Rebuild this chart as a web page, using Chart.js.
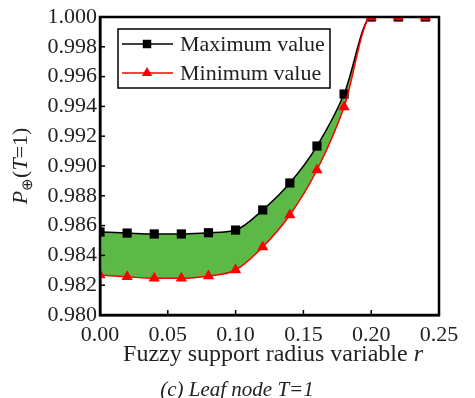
<!DOCTYPE html>
<html>
<head>
<meta charset="utf-8">
<script src="https://cdn.jsdelivr.net/npm/chart.js@4.4.0/dist/chart.umd.min.js"></script>
<style>
  html, body { margin: 0; padding: 0; background: #fff; }
  #box { width: 475px; height: 398px; }
</style>
</head>
<body>
<div id="box"><canvas id="grafica"></canvas></div>
<script>
// radius values r
const radios = [0.00, 0.02, 0.04, 0.06, 0.08, 0.10, 0.12, 0.14, 0.16, 0.18, 0.20, 0.22, 0.24, 0.26];
// P(T=1) maximum / minimum
const valoresMax = [0.98557, 0.98550, 0.98544, 0.98544, 0.98552, 0.98570, 0.98705, 0.98886, 0.99134, 0.99483, 1.000, 1.000, 1.000, 1.000];
const valoresMin = [0.98268, 0.98257, 0.98246, 0.98246, 0.98262, 0.98302, 0.98456, 0.98671, 0.98973, 0.99396, 1.000, 1.000, 1.000, 1.000];
const nombres = ["Maximum value", "Minimum value"];

const fuente = "'Liberation Serif', 'Times New Roman', serif";

// border box + inward ticks
const marco = {
  id: 'marco',
  afterDatasetsDraw(chart) {
    const ctx = chart.ctx, a = chart.chartArea;
    const x = chart.scales.x, y = chart.scales.y;
    ctx.save();
    ctx.strokeStyle = '#000';
    ctx.lineWidth = 1.5;
    y.ticks.forEach(t => {
      const py = y.getPixelForValue(t.value);
      ctx.beginPath(); ctx.moveTo(a.left, py); ctx.lineTo(a.left + 5, py); ctx.stroke();
    });
    x.ticks.forEach(t => {
      const px = x.getPixelForValue(t.value);
      ctx.beginPath(); ctx.moveTo(px, a.bottom); ctx.lineTo(px, a.bottom - 5); ctx.stroke();
    });
    ctx.lineWidth = 2.5;
    ctx.strokeRect(a.left, a.top, a.right - a.left, a.bottom - a.top);
    ctx.restore();
  }
};

// legend with frame
const leyenda = {
  id: 'leyenda',
  afterDraw(chart) {
    const ctx = chart.ctx;
    ctx.save();
    ctx.strokeStyle = '#000';
    ctx.lineWidth = 1.5;
    ctx.fillStyle = '#fff';
    ctx.fillRect(118, 29, 212, 59);
    ctx.strokeRect(118, 29, 212, 59);
    const filas = [
      { y: 44, color: '#000', forma: 'rect' },
      { y: 73, color: '#ff0000', forma: 'triangle' }
    ];
    filas.forEach((f, i) => {
      ctx.strokeStyle = f.color;
      ctx.lineWidth = 1.5;
      ctx.beginPath(); ctx.moveTo(122, f.y); ctx.lineTo(173, f.y); ctx.stroke();
      ctx.fillStyle = f.color;
      Chart.helpers.drawPoint(ctx, { pointStyle: f.forma, radius: 6, borderWidth: 0 }, 147, f.y);
      ctx.fillStyle = '#222';
      ctx.font = '22px ' + fuente;
      ctx.textBaseline = 'middle';
      ctx.textAlign = 'left';
      ctx.fillText(nombres[i], 180, f.y + 1);
    });
    ctx.restore();
  }
};

// axis titles and caption
const titulos = {
  id: 'titulos',
  afterDraw(chart) {
    const ctx = chart.ctx, a = chart.chartArea;
    ctx.save();
    ctx.fillStyle = '#222';
    ctx.textBaseline = 'alphabetic';
    // x title
    const t1 = 'Fuzzy support radius variable ';
    ctx.font = '24px ' + fuente;
    const w1 = ctx.measureText(t1).width;
    ctx.font = 'italic 24px ' + fuente;
    const w2 = ctx.measureText('r').width;
    let x0 = 273 - (w1 + w2) / 2;
    ctx.font = '24px ' + fuente;
    ctx.fillText(t1, x0, 361);
    ctx.font = 'italic 24px ' + fuente;
    ctx.fillText('r', x0 + w1, 361);
    // y title
    ctx.translate(27, (a.top + a.bottom) / 2);
    ctx.rotate(-Math.PI / 2);
    const partes = [
      { t: 'P', f: 'italic 22px ', dy: 0 },
      { t: '\u2295', f: '15px ', dy: 5 },
      { t: '(', f: '22px ', dy: 0 },
      { t: 'T', f: 'italic 22px ', dy: 0 },
      { t: '=1)', f: '22px ', dy: 0 }
    ];
    let total = 0;
    partes.forEach(p => { ctx.font = p.f + fuente; p.w = ctx.measureText(p.t).width; total += p.w; });
    let px = -total / 2;
    partes.forEach(p => { ctx.font = p.f + fuente; ctx.fillText(p.t, px, p.dy); px += p.w; });
    ctx.restore();
    // caption
    ctx.save();
    ctx.fillStyle = '#222';
    ctx.font = 'italic 21px ' + fuente;
    ctx.textAlign = 'center';
    ctx.fillText('(c) Leaf node T=1', 237, 396);
    ctx.restore();
  }
};

const grafica = document.getElementById('grafica');
var chart = new Chart(grafica, {
  type: 'line',
  data: {
    datasets: [
      {
        label: nombres[1],
        data: radios.map((r, i) => ({ x: r, y: valoresMin[i] })),
        borderColor: '#ff0000',
        backgroundColor: '#ff0000',
        borderWidth: 1.5,
        pointStyle: 'triangle',
        pointRadius: 6.5,
        pointBorderWidth: 0,
        cubicInterpolationMode: 'monotone',
        fill: false,
        clip: 0
      },
      {
        label: nombres[0],
        data: radios.map((r, i) => ({ x: r, y: valoresMax[i] })),
        borderColor: '#000',
        pointBackgroundColor: '#000',
        backgroundColor: '#5cb947',
        borderWidth: 1.5,
        pointStyle: 'rect',
        pointRadius: 6.5,
        pointBorderWidth: 0,
        cubicInterpolationMode: 'monotone',
        fill: '-1',
        clip: 0
      }
    ]
  },
  options: {
    responsive: true,
    maintainAspectRatio: false,
    animation: false,
    layout: { padding: { left: 0, top: 17, right: 36, bottom: 0 } },
    plugins: { legend: { display: false }, tooltip: { enabled: false } },
    scales: {
      x: {
        type: 'linear',
        min: 0, max: 0.25,
        afterFit(s) { s.height = 83; },
        grid: { display: false, drawTicks: false },
        border: { display: true, color: '#000', width: 2.5 },
        ticks: {
          stepSize: 0.05, color: '#222', padding: 7,
          font: { family: fuente, size: 22 },
          callback: v => v.toFixed(2)
        }
      },
      y: {
        min: 0.980, max: 1.000,
        afterFit(s) { s.width = 100; },
        grid: { display: false, drawTicks: false },
        border: { display: true, color: '#000', width: 2.5 },
        ticks: {
          stepSize: 0.002, color: '#222', padding: 3,
          font: { family: fuente, size: 22 },
          callback: v => v.toFixed(3)
        }
      }
    }
  },
  plugins: [marco, leyenda, titulos]
});
</script>
</body>
</html>
